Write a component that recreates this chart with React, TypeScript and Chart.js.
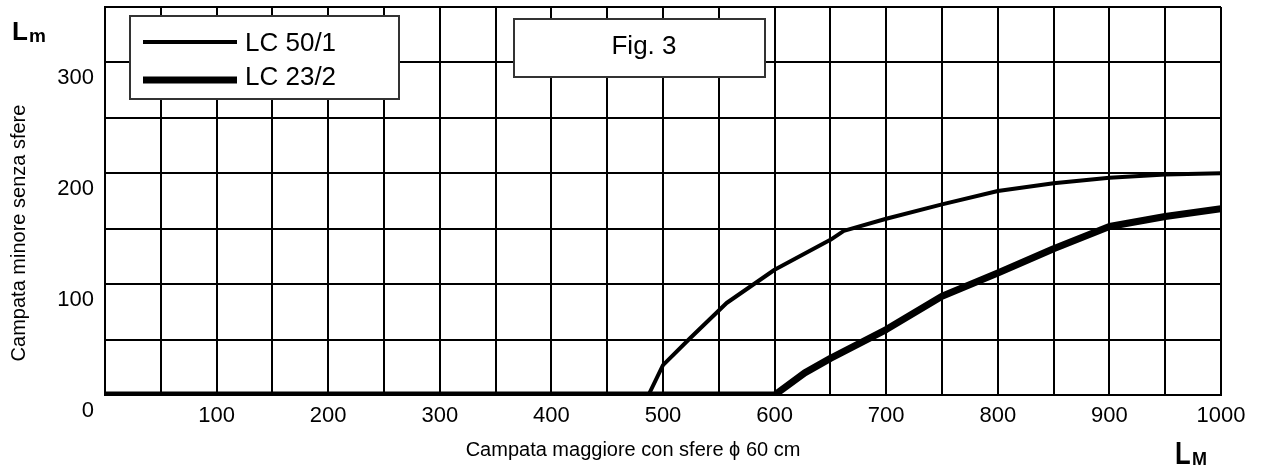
import React, { useEffect, useRef } from "react";
import { Chart, registerables } from "chart.js";

Chart.register(...registerables);

// ---- data ----
const lc50Label = "LC 50/1";
const lc50X = [0, 487, 500, 524, 557, 600, 650, 662, 700, 750, 800, 850, 900, 950, 1000];
const lc50Y = [0, 0, 27, 51, 83, 113, 140, 148, 159, 172, 184, 191, 196, 199, 200];

const lc23Label = "LC 23/2";
const lc23X = [0, 600, 627, 650, 700, 750, 800, 850, 900, 950, 1000];
const lc23Y = [0, 0, 20, 33, 59, 89, 110, 132, 152, 161, 168];

const xTickLabels = [100, 200, 300, 400, 500, 600, 700, 800, 900, 1000];
const yTickLabels = [0, 100, 200, 300];

const xTitle = "Campata maggiore con sfere \u03D5 60 cm";
const yTitle = "Campata minore senza sfere";
const figLabel = "Fig. 3";

const FONT = "'Liberation Sans', Arial, sans-serif";

const overlayPlugin = {
  id: "overlay",
  afterDraw(chart: any) {
    const ctx = chart.ctx as CanvasRenderingContext2D;
    ctx.save();
    // legend box
    ctx.fillStyle = "#fff";
    ctx.strokeStyle = "#333";
    ctx.lineWidth = 2;
    ctx.fillRect(130, 16, 269, 83);
    ctx.strokeRect(130, 16, 269, 83);
    const rows = [42, 80];
    const textRows = [44, 78];
    chart.data.datasets.forEach((ds: any, i: number) => {
      ctx.beginPath();
      ctx.strokeStyle = ds.borderColor;
      ctx.lineWidth = ds.borderWidth;
      ctx.lineCap = "butt";
      ctx.moveTo(143, rows[i]);
      ctx.lineTo(237, rows[i]);
      ctx.stroke();
      ctx.fillStyle = "#000";
      ctx.font = `26px ${FONT}`;
      ctx.textAlign = "left";
      ctx.textBaseline = "middle";
      ctx.fillText(ds.label, 245, textRows[i]);
    });
    // Fig box
    ctx.fillStyle = "#fff";
    ctx.strokeStyle = "#333";
    ctx.lineWidth = 2;
    ctx.fillRect(514, 19, 251, 58);
    ctx.strokeRect(514, 19, 251, 58);
    ctx.fillStyle = "#000";
    ctx.font = `26px ${FONT}`;
    ctx.textAlign = "center";
    ctx.textBaseline = "middle";
    ctx.fillText(figLabel, 644, 47);

    // axis titles
    ctx.font = `20px ${FONT}`;
    ctx.textAlign = "center";
    ctx.textBaseline = "alphabetic";
    ctx.fillText(xTitle, 633, 456);
    ctx.save();
    ctx.translate(25, 233);
    ctx.rotate(-Math.PI / 2);
    ctx.fillText(yTitle, 0, 0);
    ctx.restore();

    // L_m
    ctx.textAlign = "left";
    ctx.font = `bold 26px ${FONT}`;
    ctx.fillText("L", 12, 40);
    ctx.font = `bold 19px ${FONT}`;
    ctx.fillText("m", 29, 42);

    // L_M
    ctx.save();
    ctx.translate(1175, 464);
    ctx.scale(0.8, 1);
    ctx.font = `bold 32px ${FONT}`;
    ctx.fillText("L", 0, 0);
    ctx.restore();
    ctx.font = `bold 18px ${FONT}`;
    ctx.fillText("M", 1192, 465);
    ctx.restore();
  },
};

export default function App() {
  const ref = useRef<HTMLCanvasElement | null>(null);
  useEffect(() => {
    if (!ref.current) return;
    const chart = new Chart(ref.current, {
      type: "line",
      data: {
        datasets: [
          {
            label: lc50Label,
            data: lc50X.map((x, i) => ({ x, y: lc50Y[i] })),
            borderColor: "#000",
            borderWidth: 4,
            pointRadius: 0,
            tension: 0,
            fill: false,
            borderJoinStyle: "round",
          },
          {
            label: lc23Label,
            data: lc23X.map((x, i) => ({ x, y: lc23Y[i] })),
            borderColor: "#000",
            borderWidth: 7,
            pointRadius: 0,
            tension: 0,
            fill: false,
            borderJoinStyle: "round",
          },
        ],
      },
      options: {
        animation: false,
        responsive: false,
        layout: { padding: { left: 0, top: 7, right: 46, bottom: 0 } },
        plugins: { legend: { display: false }, tooltip: { enabled: false } },
        scales: {
          x: {
            type: "linear",
            min: 0,
            max: 1000,
            grid: { color: "#000", lineWidth: 2, drawTicks: false },
            border: { color: "#000", width: 2 },
            ticks: {
              stepSize: 50,
              autoSkip: false,
              maxRotation: 0,
              padding: 8,
              color: "#000",
              font: { family: FONT, size: 22 },
              callback: (v: any) => (xTickLabels.includes(Number(v)) ? String(v) : ""),
            },
            afterFit: (s: any) => {
              s.height = 76;
              s.paddingLeft = 0;
              s.paddingRight = 0;
            },
          },
          y: {
            type: "linear",
            min: 0,
            max: 350,
            grid: { color: "#000", lineWidth: 2, drawTicks: false },
            border: { color: "#000", width: 2 },
            ticks: {
              stepSize: 50,
              autoSkip: false,
              padding: 11,
              labelOffset: 16,
              color: "#000",
              font: { family: FONT, size: 22 },
              callback: (v: any) => (yTickLabels.includes(Number(v)) ? String(v) : ""),
            },
            afterFit: (s: any) => {
              s.width = 105;
              s.paddingTop = 0;
              s.paddingBottom = 0;
            },
          },
        },
      },
      plugins: [overlayPlugin],
    } as any);
    return () => chart.destroy();
  }, []);
  return (
    <div style={{ position: "fixed", left: 0, top: 0, width: 1267, height: 471, background: "#fff" }}>
      <canvas ref={ref} width={1267} height={471} style={{ display: "block" }} />
    </div>
  );
}
